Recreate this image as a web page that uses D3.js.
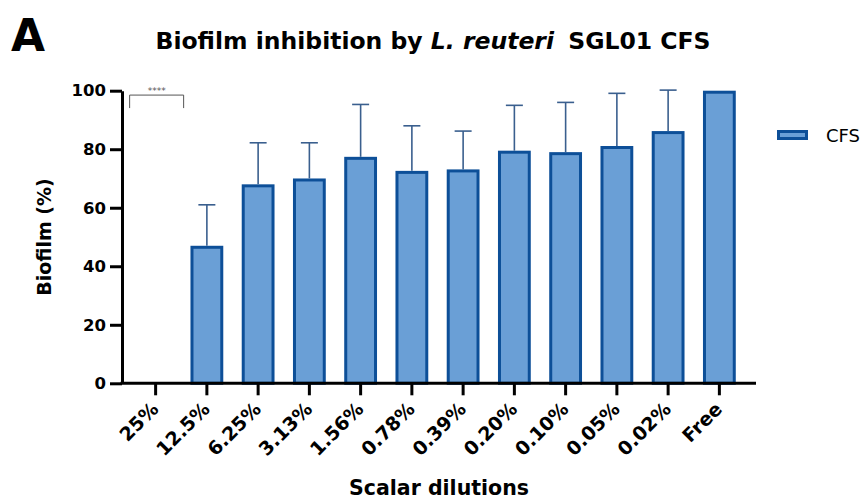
<!DOCTYPE html>
<html>
<head>
<meta charset="utf-8">
<script src="https://cdn.jsdelivr.net/npm/d3@7"></script>
<style>
  html, body { margin: 0; padding: 0; background: #fff; }
  svg { display: block; }
  text { font-family: "DejaVu Sans", "Liberation Sans", Arial, sans-serif; }
</style>
</head>
<body>
<div id="chart"></div>
<script>
// dilutions on the x axis
const categories = ["25%", "12.5%", "6.25%", "3.13%", "1.56%", "0.78%", "0.39%", "0.20%", "0.10%", "0.05%", "0.02%", "Free"];
// mean biofilm (%) and upper SD
const means = [0, 47, 68, 70, 77.4, 72.6, 73.1, 79.5, 79, 81.1, 86.2, 100];
const sds = [0, 14, 14.2, 12.2, 17.9, 15.4, 13.1, 15.5, 17, 18, 14, 0];
const yTicks = [0, 20, 40, 60, 80, 100];
const seriesName = "CFS";

const width = 863;
const height = 499;

const fillColor = "#6a9fd6";
const strokeColor = "#0d4f98";
const errColor = "#3a5f8e";

const svg = d3.select("#chart").append("svg")
    .attr("width", width)
    .attr("height", height);

const x = d3.scaleBand()
    .domain(categories)
    .range([130, 745])
    .paddingInner(0.36)
    .paddingOuter(0.18);

const y = d3.scaleLinear().domain([0, 100]).range([383.3, 90.7]);

const axisX0 = 122;   // y axis position
const rows = categories.map((c, i) => ({ cat: c, mean: means[i], sd: sds[i] }));

// bars
svg.append("g").selectAll("rect")
    .data(rows.filter(d => d.mean > 0))
    .enter()
    .append("rect")
    .attr("x", d => x(d.cat) + 1.5)
    .attr("y", d => y(d.mean) + 1.5)
    .attr("width", x.bandwidth() - 3)
    .attr("height", d => y(0) - y(d.mean) - 1.5)
    .attr("fill", fillColor)
    .attr("stroke", strokeColor)
    .attr("stroke-width", 3);

// error bars (upper only)
const err = svg.append("g")
    .attr("stroke", errColor)
    .attr("stroke-width", 1.6);
rows.filter(d => d.sd > 0).forEach(d => {
    const cx = x(d.cat) + x.bandwidth() / 2;
    err.append("line")
        .attr("x1", cx).attr("x2", cx)
        .attr("y1", y(d.mean)).attr("y2", y(d.mean + d.sd));
    err.append("line")
        .attr("x1", cx - 8.5).attr("x2", cx + 8.5)
        .attr("y1", y(d.mean + d.sd)).attr("y2", y(d.mean + d.sd));
});

// y axis
const gy = svg.append("g")
    .attr("transform", `translate(${axisX0},0)`)
    .call(d3.axisLeft(y).tickValues(yTicks).tickSize(12).tickSizeOuter(0).tickPadding(4));
gy.select(".domain").attr("stroke", "#000").attr("stroke-width", 3);
gy.selectAll(".tick line").attr("stroke", "#000").attr("stroke-width", 3);
gy.selectAll(".tick text")
    .attr("fill", "#000")
    .style("font-size", "16.5px")
    .style("font-weight", "bold");

// x axis
const gx = svg.append("g")
    .attr("transform", `translate(0,${y(0)})`)
    .call(d3.axisBottom(x).tickSize(12).tickSizeOuter(0));
gx.select(".domain").remove();
gx.selectAll(".tick line").attr("stroke", "#000").attr("stroke-width", 3);
gx.selectAll(".tick text")
    .attr("fill", "#000")
    .attr("text-anchor", "end")
    .attr("x", 0)
    .attr("y", 0)
    .attr("dy", 0)
    .attr("transform", "translate(4,27) rotate(-45)")
    .style("font-size", "19px")
    .style("font-weight", "bold");
svg.append("line")
    .attr("x1", axisX0 - 1.5)
    .attr("x2", x.range()[1] + 11)
    .attr("y1", y(0))
    .attr("y2", y(0))
    .attr("stroke", "#000")
    .attr("stroke-width", 3);

// significance bracket over 25%
const c0 = x(categories[0]) + x.bandwidth() / 2;
const bY = y(98.5);
svg.append("path")
    .attr("d", `M${c0 - 26},${bY + 13}V${bY}H${c0 + 28}V${bY + 13}`)
    .attr("fill", "none")
    .attr("stroke", "#555")
    .attr("stroke-width", 1);
svg.append("text")
    .attr("x", c0 + 1)
    .attr("y", bY - 1)
    .attr("text-anchor", "middle")
    .attr("fill", "#555")
    .style("font-size", "9px")
    .text("****");

// axis titles
svg.append("text")
    .attr("transform", `translate(51,${(y(0) + y(100)) / 2}) rotate(-90)`)
    .attr("text-anchor", "middle")
    .style("font-size", "19px")
    .style("font-weight", "bold")
    .text("Biofilm (%)");

svg.append("text")
    .attr("x", (axisX0 + x.range()[1] + 11) / 2)
    .attr("y", 495)
    .attr("text-anchor", "middle")
    .style("font-size", "20.5px")
    .style("font-weight", "bold")
    .text("Scalar dilutions");

// title
const title = svg.append("text")
    .attr("x", 433)
    .attr("y", 49)
    .attr("text-anchor", "middle")
    .style("font-size", "23.5px")
    .style("font-weight", "bold");
title.append("tspan").text("Biofilm inhibition by ");
title.append("tspan").style("font-style", "italic").text("L. reuteri");
title.append("tspan").attr("dx", 6).text(" SGL01 CFS");

svg.append("text")
    .attr("x", 11)
    .attr("y", 51)
    .style("font-size", "44px")
    .style("font-weight", "bold")
    .text("A");

// legend
const lg = svg.append("g").attr("transform", "translate(777,130)");
lg.append("rect")
    .attr("x", 1.5).attr("y", 1.5)
    .attr("width", 28).attr("height", 7)
    .attr("fill", fillColor)
    .attr("stroke", strokeColor)
    .attr("stroke-width", 3);
lg.append("text")
    .attr("x", 49)
    .attr("y", 6)
    .attr("dy", "0.35em")
    .style("font-size", "18px")
    .text(seriesName);
</script>
</body>
</html>
